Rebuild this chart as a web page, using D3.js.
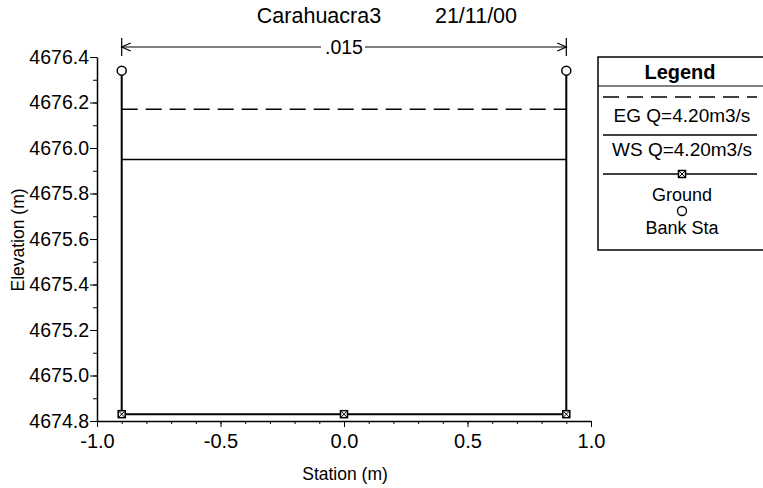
<!DOCTYPE html>
<html>
<head>
<meta charset="utf-8">
<script src="https://cdn.jsdelivr.net/npm/d3@7"></script>
<style>
  body { margin: 0; background: #fff; }
  svg { font-family: Arial, "Liberation Sans", sans-serif; }
</style>
</head>
<body>
<svg id="chart" width="763" height="488"></svg>
<script>
// Dados do perfil
const title = 'Carahuacra3';
const dateLabel = '21/11/00';
const groundSta = [-0.9, -0.9, 0.0, 0.9, 0.9];
const groundElev = [4676.34, 4674.83, 4674.83, 4674.83, 4676.34];
const bankSta = [-0.9, 0.9];
const bankElev = [4676.34, 4676.34];
const wsElev = 4675.95;
const egElev = 4676.17;
const manningN = '.015';
const xTicks = [-1.0, -0.5, 0.0, 0.5, 1.0];
const yTicks = [4674.8, 4675.0, 4675.2, 4675.4, 4675.6, 4675.8, 4676.0, 4676.2, 4676.4];
const legendItems = ['EG Q=4.20m3/s', 'WS Q=4.20m3/s', 'Ground', 'Bank Sta'];

const svg = d3.select('#chart');

const x = d3.scaleLinear().domain([-1, 1]).range([97, 591]);
const y = d3.scaleLinear().domain([4674.8, 4676.4]).range([421, 57]);
const fmt = d => d3.format('.1f')(d).replace('\u2212', '-');

// Eixos
const xAxis = svg.append('g').attr('transform', `translate(0,${y(4674.8)})`);
xAxis.call(d3.axisBottom(x).tickValues(d3.range(-10, 11).map(d => d / 10)).tickSize(3).tickFormat(''));
xAxis.call(g => g.select('.domain').remove());
const xMajor = svg.append('g').attr('transform', `translate(0,${y(4674.8)})`)
    .call(d3.axisBottom(x).tickValues(xTicks).tickSize(6).tickSizeOuter(0).tickFormat(fmt));
xMajor.selectAll('text').attr('font-size', 20).attr('dy', '0.9em').attr('fill', '#000');
xMajor.select('.domain').attr('stroke-width', 1.5);

const yAxis = svg.append('g').attr('transform', `translate(${x(-1)},0)`);
yAxis.call(d3.axisLeft(y).tickValues(d3.range(48, 65).map(d => d / 10 + 4670)).tickSize(4).tickFormat(''));
yAxis.call(g => g.select('.domain').remove());
const yMajor = svg.append('g').attr('transform', `translate(${x(-1)},0)`)
    .call(d3.axisLeft(y).tickValues(yTicks).tickSize(7).tickSizeOuter(0).tickFormat(fmt));
yMajor.selectAll('text').attr('font-size', 19.5).attr('x', -8).attr('fill', '#000');
yMajor.select('.domain').attr('stroke-width', 1.5);
svg.selectAll('.tick line').attr('stroke', '#000');

// Títulos
svg.append('text').attr('x', 319).attr('y', 23).attr('text-anchor', 'middle')
    .attr('font-size', 21.5).text(title);
svg.append('text').attr('x', 476).attr('y', 23).attr('text-anchor', 'middle')
    .attr('font-size', 21.5).text(dateLabel);
svg.append('text').attr('x', 345).attr('y', 480).attr('text-anchor', 'middle')
    .attr('font-size', 17.5).text('Station (m)');
svg.append('text').attr('transform', 'translate(24,240) rotate(-90)').attr('text-anchor', 'middle')
    .attr('font-size', 17.5).text('Elevation (m)');

// Linhas de energia e água
const lineGen = d3.line().x(d => x(d[0])).y(d => y(d[1]));
svg.append('path').attr('d', lineGen([[bankSta[0], egElev], [bankSta[1], egElev]]))
    .attr('stroke', '#000').attr('stroke-width', 1.5).attr('stroke-dasharray', '16,8').attr('fill', 'none');
svg.append('path').attr('d', lineGen([[bankSta[0], wsElev], [bankSta[1], wsElev]]))
    .attr('stroke', '#000').attr('stroke-width', 1.5).attr('fill', 'none');

// Terreno
const ground = groundSta.map((s, i) => [s, groundElev[i]]);
svg.append('path').attr('d', lineGen(ground))
    .attr('stroke', '#000').attr('stroke-width', 2).attr('fill', 'none');

function groundMarker(g, cx, cy) {
    g.append('rect').attr('x', cx - 3.5).attr('y', cy - 3.5).attr('width', 7).attr('height', 7)
        .attr('fill', '#fff').attr('stroke', '#000').attr('stroke-width', 1.5);
    g.append('path').attr('d', `M${cx - 3},${cy - 3}L${cx + 3},${cy + 3}M${cx + 3},${cy - 3}L${cx - 3},${cy + 3}`)
        .attr('stroke', '#000').attr('stroke-width', 1);
}
ground.filter(d => d[1] < wsElev).forEach(d => groundMarker(svg, x(d[0]), y(d[1])));

// Estações de margem
svg.selectAll('circle.bank').data(bankSta).enter().append('circle')
    .attr('class', 'bank')
    .attr('cx', d => x(d)).attr('cy', (d, i) => y(bankElev[i]))
    .attr('r', 4.5).attr('fill', '#fff').attr('stroke', '#000').attr('stroke-width', 1.5);

// Manning n
const nY = 47;
const x0 = x(bankSta[0]), x1 = x(bankSta[1]);
const nMid = (x0 + x1) / 2;
svg.append('text').attr('x', nMid).attr('y', nY + 7).attr('text-anchor', 'middle')
    .attr('font-size', 19.5).text(manningN);
[[x0, nMid - 23], [nMid + 21, x1]].forEach(([a, b]) => {
    svg.append('line').attr('x1', a).attr('x2', b).attr('y1', nY).attr('y2', nY)
        .attr('stroke', '#000').attr('stroke-width', 1);
});
[x0, x1].forEach((px, i) => {
    svg.append('line').attr('x1', px).attr('x2', px).attr('y1', nY - 9).attr('y2', nY + 9)
        .attr('stroke', '#000').attr('stroke-width', 1.2);
    const dir = i === 0 ? 1 : -1;
    svg.append('path').attr('d', `M${px + dir * 9},${nY - 4} L${px},${nY} L${px + dir * 9},${nY + 4}`)
        .attr('stroke', '#000').attr('stroke-width', 1.2).attr('fill', 'none');
});

// Legenda
const lg = svg.append('g');
lg.append('rect').attr('x', 598).attr('y', 57).attr('width', 180).attr('height', 193)
    .attr('fill', '#fff').attr('stroke', '#000').attr('stroke-width', 1.5);
lg.append('text').attr('x', 680).attr('y', 79).attr('text-anchor', 'middle')
    .attr('font-size', 20).attr('font-weight', 'bold').text('Legend');
lg.append('line').attr('x1', 598).attr('x2', 763).attr('y1', 86).attr('y2', 86)
    .attr('stroke', '#000').attr('stroke-width', 1.2);
lg.append('line').attr('x1', 603).attr('x2', 757).attr('y1', 97).attr('y2', 97)
    .attr('stroke', '#000').attr('stroke-width', 1.5).attr('stroke-dasharray', '16,8');
lg.append('text').attr('x', 682).attr('y', 122).attr('text-anchor', 'middle')
    .attr('font-size', 19).text(legendItems[0]);
lg.append('line').attr('x1', 603).attr('x2', 757).attr('y1', 135).attr('y2', 135)
    .attr('stroke', '#000').attr('stroke-width', 1.5);
lg.append('text').attr('x', 682).attr('y', 156).attr('text-anchor', 'middle')
    .attr('font-size', 19).text(legendItems[1]);
lg.append('line').attr('x1', 603).attr('x2', 757).attr('y1', 174).attr('y2', 174)
    .attr('stroke', '#000').attr('stroke-width', 1.5);
groundMarker(lg, 682, 174);
lg.append('text').attr('x', 682).attr('y', 201).attr('text-anchor', 'middle')
    .attr('font-size', 18).text(legendItems[2]);
lg.append('circle').attr('cx', 682).attr('cy', 211).attr('r', 4.5)
    .attr('fill', '#fff').attr('stroke', '#000').attr('stroke-width', 1.3);
lg.append('text').attr('x', 682).attr('y', 234).attr('text-anchor', 'middle')
    .attr('font-size', 18).text(legendItems[3]);
</script>
</body>
</html>
